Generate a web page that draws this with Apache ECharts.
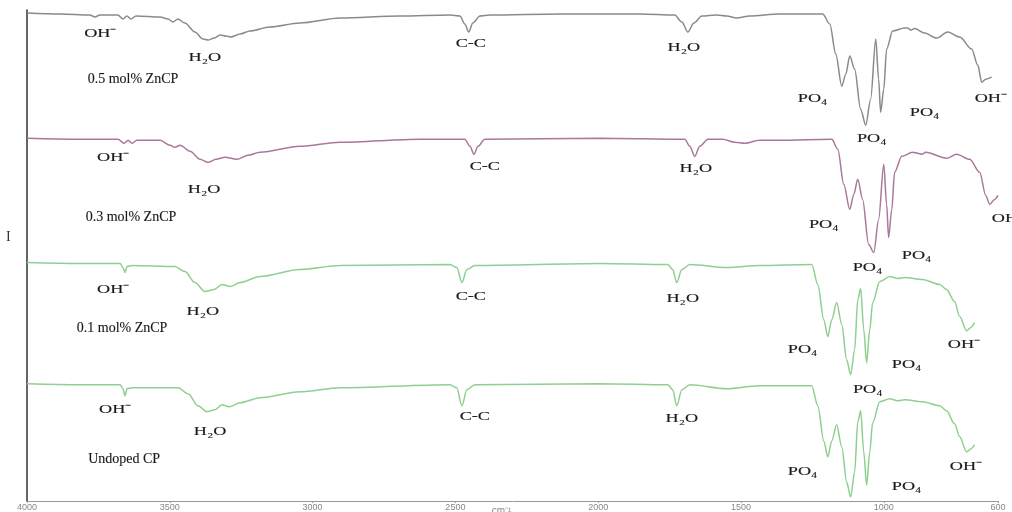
<!DOCTYPE html>
<html>
<head>
<meta charset="utf-8">
<script src="https://cdn.jsdelivr.net/npm/echarts@6/dist/echarts.min.js"></script>
<style>
  html, body { margin: 0; padding: 0; background: #fff; }
  #chart { width: 1012px; height: 512px; }
</style>
</head>
<body>
<div id="chart"></div>
<script>
// wavenumber ticks shown under the axis
const xTicks = [4000, 3500, 3000, 2500, 2000, 1500, 1000, 600];

// spectra: [wavenumber (cm-1), transmittance (offset, arb. units)]
const zncp05 = [
  [4000, 97.4], [3884, 97.2], [3780, 97.0], [3762, 96.6], [3745, 97.0], [3682, 97.0],
  [3664, 96.2], [3650, 96.8], [3636, 96.2], [3618, 96.8], [3534, 96.6], [3506, 96.2],
  [3489, 95.6], [3472, 96.2], [3447, 95.4], [3412, 93.6], [3384, 92.2], [3366, 92.0],
  [3345, 92.4], [3324, 93.0], [3303, 92.8], [3286, 92.6], [3254, 93.2], [3219, 93.8],
  [3150, 94.6], [3044, 95.4], [2904, 96.4], [2694, 96.8], [2519, 97.0], [2484, 96.8],
  [2467, 95.2], [2453, 93.6], [2439, 95.4], [2414, 96.8], [2379, 97.0], [2134, 97.2],
  [1854, 97.2], [1732, 97.0], [1707, 95.6], [1686, 93.6], [1665, 95.4], [1637, 96.8],
  [1585, 97.0], [1550, 96.8], [1515, 96.4], [1470, 96.8], [1365, 97.2], [1214, 97.2],
  [1189, 95.2], [1168, 89.2], [1147, 82.8], [1133, 85.2], [1119, 88.8], [1102, 86.2],
  [1081, 78.2], [1063, 75.0], [1046, 80.2], [1028, 92.2], [1018, 84.2], [1011, 77.6],
  [1000, 82.2], [990, 90.2], [969, 93.8], [927, 94.4], [916, 94.4], [906, 94.0],
  [892, 94.3], [857, 93.4], [815, 92.4], [776, 93.6], [734, 92.6], [692, 90.2],
  [671, 87.0], [657, 83.6], [643, 84.2], [622, 84.6]
];

const zncp03 = [
  [4000, 72.4], [3814, 72.2], [3681, 72.2], [3660, 71.4], [3646, 72.0], [3632, 71.4],
  [3615, 72.0], [3534, 72.0], [3499, 71.0], [3482, 70.6], [3464, 71.0], [3429, 69.8],
  [3394, 68.2], [3366, 67.6], [3338, 68.2], [3307, 68.6], [3265, 68.2], [3226, 69.0],
  [3184, 69.6], [3044, 70.8], [2904, 71.6], [2624, 72.2], [2467, 72.2], [2449, 70.8],
  [2435, 69.2], [2421, 70.8], [2397, 72.2], [1994, 72.4], [1697, 72.2], [1679, 70.8],
  [1662, 68.8], [1644, 70.8], [1616, 72.2], [1564, 72.2], [1522, 71.6], [1487, 71.4],
  [1434, 72.0], [1364, 72.0], [1182, 72.2], [1161, 70.2], [1140, 63.2], [1119, 58.2],
  [1105, 61.2], [1091, 64.2], [1074, 60.2], [1053, 51.2], [1035, 49.6], [1018, 56.2],
  [1000, 67.2], [990, 59.2], [983, 52.6], [972, 58.2], [962, 65.6], [937, 68.8],
  [899, 69.6], [881, 69.4], [867, 69.2], [853, 69.6], [780, 68.4], [745, 69.2],
  [699, 68.2], [664, 65.6], [643, 61.0], [629, 59.2], [612, 60.2], [600, 61.0]
];

const zncp01 = [
  [4000, 47.6], [3814, 47.4], [3674, 47.4], [3664, 46.6], [3657, 45.6], [3650, 46.8],
  [3632, 47.0], [3482, 46.8], [3447, 45.8], [3412, 43.6], [3377, 41.8], [3345, 42.2],
  [3317, 43.2], [3289, 42.8], [3254, 43.6], [3184, 44.8], [3044, 46.2], [2904, 47.0],
  [2519, 47.2], [2495, 46.6], [2477, 43.6], [2460, 46.2], [2432, 47.0], [1994, 47.4],
  [1756, 47.2], [1739, 46.2], [1725, 43.6], [1707, 46.2], [1679, 47.2], [1550, 46.6],
  [1434, 47.0], [1252, 47.2], [1231, 43.2], [1210, 36.2], [1196, 32.8], [1182, 36.2],
  [1165, 39.6], [1147, 35.2], [1130, 28.2], [1116, 25.2], [1102, 30.2], [1091, 40.2],
  [1081, 42.4], [1070, 34.2], [1060, 27.6], [1049, 34.2], [1039, 39.6], [1014, 43.8],
  [979, 44.8], [951, 44.4], [927, 44.6], [864, 44.2], [804, 43.2], [780, 42.2],
  [752, 39.8], [734, 36.8], [710, 34.0], [696, 34.6], [682, 35.6]
];

const undoped = [
  [4000, 23.4], [3814, 23.2], [3674, 23.2], [3664, 22.4], [3657, 21.0], [3650, 22.4],
  [3632, 22.6], [3471, 22.6], [3436, 21.4], [3401, 19.0], [3370, 17.8], [3342, 18.2],
  [3317, 19.2], [3293, 18.8], [3254, 19.6], [3184, 20.6], [3044, 21.8], [2904, 22.6],
  [2519, 23.2], [2495, 22.6], [2477, 19.0], [2460, 22.2], [2432, 23.2], [1994, 23.4],
  [1756, 23.2], [1739, 22.2], [1725, 19.0], [1707, 22.2], [1679, 23.2], [1550, 22.4],
  [1434, 23.0], [1252, 23.0], [1231, 19.0], [1210, 12.0], [1196, 8.8], [1182, 12.0],
  [1165, 15.2], [1147, 10.8], [1130, 3.8], [1116, 0.8], [1102, 5.8], [1091, 15.8],
  [1081, 18.0], [1070, 9.8], [1060, 3.2], [1049, 9.8], [1039, 15.6], [1014, 19.8],
  [979, 20.4], [951, 20.0], [927, 20.2], [864, 19.8], [804, 19.0], [780, 18.0],
  [752, 15.4], [734, 12.8], [710, 9.8], [696, 10.4], [682, 11.2]
];

// sample names: [wavenumber, y, text]
const sampleNames = [
  [3629, 84.2, '0.5 mol% ZnCP'],
  [3636, 56.6, '0.3 mol% ZnCP'],
  [3667, 34.4, '0.1 mol% ZnCP'],
  [3660, 8.4, 'Undoped CP']
];

// band assignments: [wavenumber, y, text]
const bandLabels = [
  [3744, 93.2, 'OH⁻'], [3377, 88.6, 'H₂O'], [2446, 91.2, 'C-C'], [1700, 90.4, 'H₂O'],
  [1249, 80.4, 'PO₄'], [1042, 72.4, 'PO₄'], [857, 77.6, 'PO₄'], [626, 80.4, 'OH⁻'],

  [3699, 68.6, 'OH⁻'], [3380, 62.2, 'H₂O'], [2397, 66.8, 'C-C'], [1658, 66.4, 'H₂O'],
  [1210, 55.2, 'PO₄'], [1057, 46.6, 'PO₄'], [885, 49.0, 'PO₄'], [566, 56.4, 'OH⁻'],

  [3699, 42.2, 'OH⁻'], [3384, 37.8, 'H₂O'], [2446, 40.8, 'C-C'], [1704, 40.4, 'H₂O'],
  [1284, 30.2, 'PO₄'], [1056, 22.2, 'PO₄'], [920, 27.2, 'PO₄'], [720, 31.2, 'OH⁻'],

  [3692, 18.2, 'OH⁻'], [3359, 13.8, 'H₂O'], [2432, 16.8, 'C-C'], [1707, 16.4, 'H₂O'],
  [1284, 5.8, 'PO₄'], [920, 2.8, 'PO₄'], [713, 6.8, 'OH⁻']
];

const chart = echarts.init(document.getElementById('chart'));

function spectrum(name, data, color) {
  return {
    name: name,
    type: 'line',
    data: data,
    showSymbol: false,
    smooth: 0.3,
    smoothMonotone: 'x',
    lineStyle: { color: color, width: 1.5 },
    silent: true,
    z: 2
  };
}

chart.setOption({
  animation: false,
  backgroundColor: '#fff',
  grid: { left: 27, right: 14, top: 10, bottom: 11, outerBoundsMode: 'none' },
  xAxis: {
    type: 'value',
    min: 600,
    max: 4000,
    inverse: true,
    name: 'cm⁻¹',
    nameLocation: 'middle',
    nameGap: 5,
    nameMoveOverlap: false,
    nameTextStyle: { fontSize: 10, color: '#888', fontFamily: 'Liberation Sans', padding: [0, 22, 0, 0] },
    axisLine: { lineStyle: { color: '#999', width: 1 } },
    axisTick: { show: true, length: 2, customValues: xTicks, lineStyle: { color: '#999' } },
    axisLabel: {
      customValues: xTicks,
      formatter: v => String(v),
      fontSize: 9,
      color: '#888',
      margin: 2,
      fontFamily: 'Liberation Sans'
    },
    splitLine: { show: false }
  },
  yAxis: {
    type: 'value',
    min: 0,
    max: 98,
    axisLine: { show: true, onZero: false, lineStyle: { color: '#333', width: 1.5 } },
    axisTick: { show: false },
    axisLabel: { show: false },
    splitLine: { show: false }
  },
  series: [
    spectrum('0.5 mol% ZnCP', zncp05, '#8a8a8a'),
    spectrum('0.3 mol% ZnCP', zncp03, '#a9789a'),
    spectrum('0.1 mol% ZnCP', zncp01, '#8fcf8f'),
    spectrum('Undoped CP', undoped, '#8fcf8f')
  ]
});

// text annotations, placed through the grid's own coordinate system;
// the band labels in the figure are stretched sideways
function annotation(d, size, stretch) {
  const pt = chart.convertToPixel({ gridIndex: 0 }, [d[0], d[1]]);
  return {
    type: 'text',
    x: pt[0],
    y: pt[1],
    scaleX: stretch,
    silent: true,
    z: 10,
    style: {
      text: d[2],
      align: 'center',
      verticalAlign: 'middle',
      font: size + 'px "Liberation Serif"',
      fill: '#1a1a1a',
      stroke: '#666',
      lineWidth: 0.2
    }
  };
}

chart.setOption({
  graphic: [
    {
      type: 'text',
      left: 6,
      top: 230,
      style: { text: 'I', font: '14px "Liberation Serif"', fill: '#333' }
    }
  ].concat(
    bandLabels.map(d => annotation(d, 13, 1.4)),
    sampleNames.map(d => annotation(d, 14, 1.0))
  )
});
</script>
</body>
</html>
